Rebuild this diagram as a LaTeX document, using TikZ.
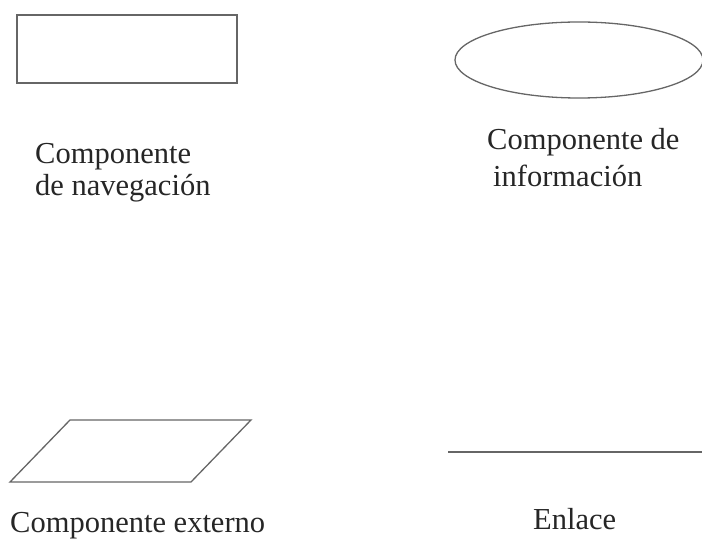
\documentclass[tikz,border=0pt]{standalone}
\usepackage{fontspec}
\setmainfont{Liberation Serif}
\usetikzlibrary{shapes.geometric}
\begin{document}
\begin{tikzpicture}[x=1pt,y=-1pt,
  shp/.style={draw=black!60,line width=1.3pt},
  lbl/.style={anchor=base west,inner sep=0pt,text=black!85,font=\fontsize{30.5}{30}\selectfont}]
\useasboundingbox (0,0) rectangle (702,545);
\clip (0,0) rectangle (702,545);
% navigation component
\draw[shp] (17,15) rectangle (237,83);
\node[lbl] (nav1) at (35,164) {Componente};
\node[lbl] (nav2) at (35,196) {de navegación};
% information component
\draw[shp] (579,60) ellipse [x radius=124, y radius=38];
\node[lbl] (inf1) at (487,150) {Componente de};
\node[lbl] (inf2) at (493,187) {información};
% external component
\draw[shp] (70,420) -- (251,420) -- (191,482) -- (10,482) -- cycle;
\node[lbl] (ext) at (10,532) {Componente externo};
% link
\coordinate (la) at (448,452);
\coordinate (lb) at (702,452);
\draw[shp] (la) -- (lb);
\node[lbl] (enl) at (533,529) {Enlace};
\end{tikzpicture}
\end{document}
